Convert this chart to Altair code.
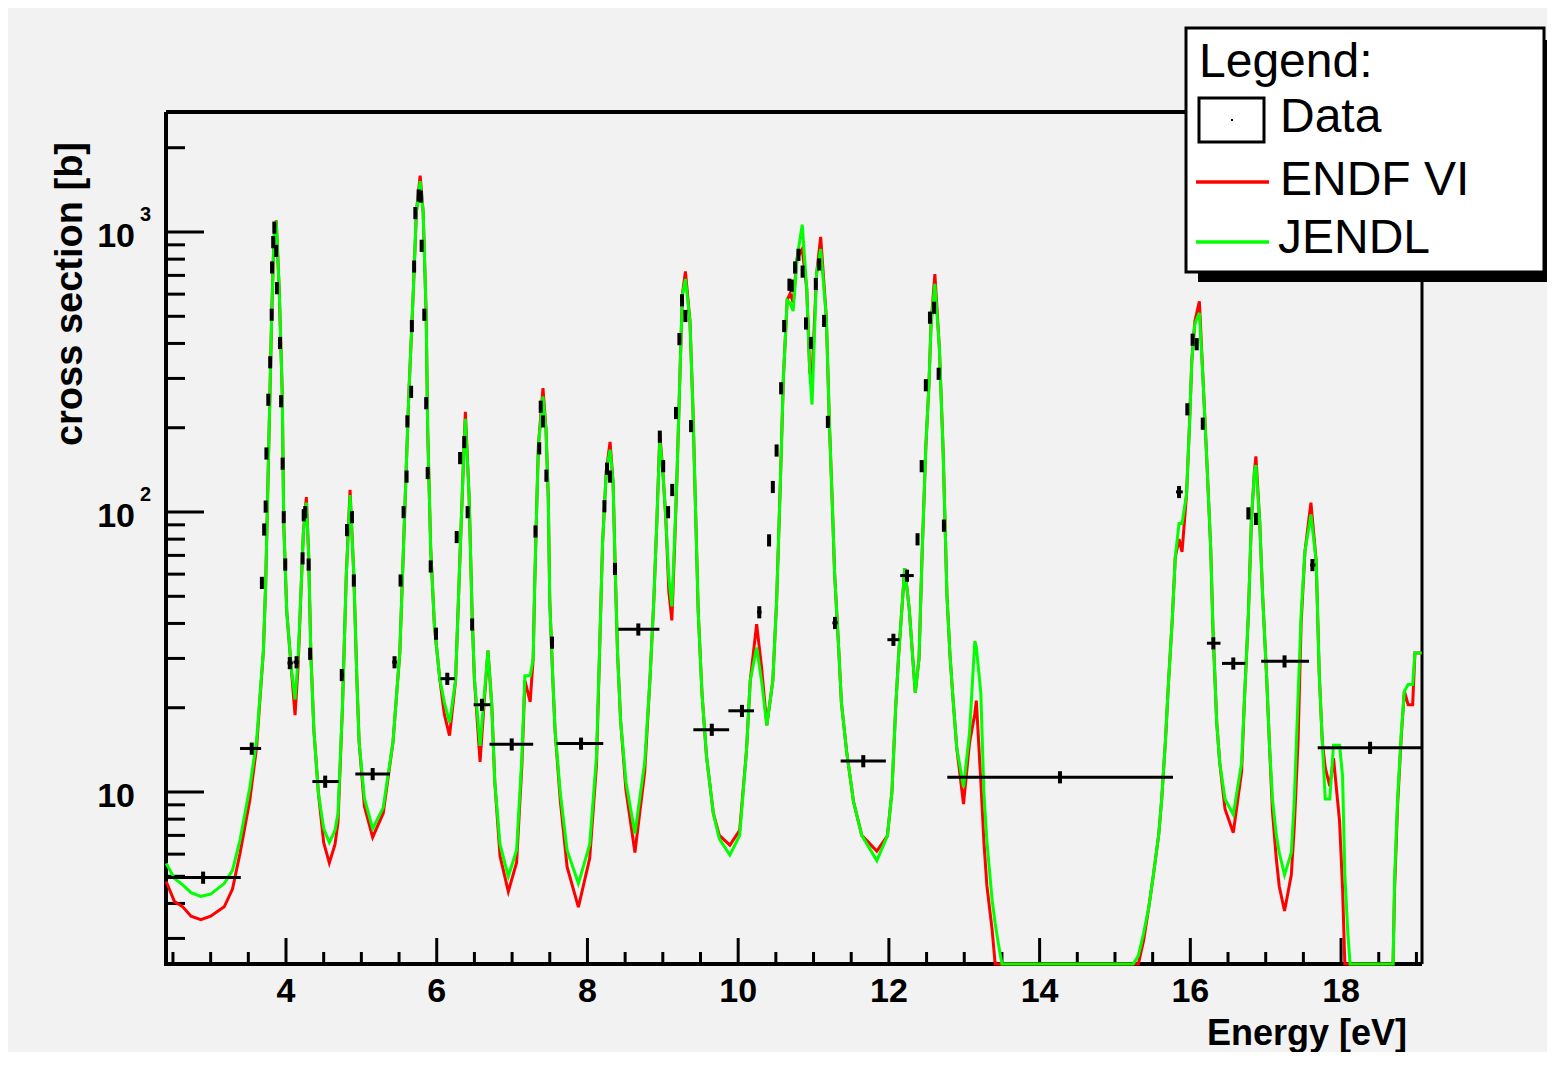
import altair as alt
import pandas as pd

# ---------------- axis ranges ----------------
X_MIN, X_MAX = 2.4076, 19.074
Y_MIN, Y_MAX = 2.431, 2683.0

# ---------------- evaluated cross sections ----------------
curve_x = [2.41, 2.52, 2.63, 2.74, 2.87, 3.0, 3.18, 3.29, 3.39, 3.52, 3.61, 3.70, 3.73, 3.77, 3.81, 3.84, 3.87,
           3.91, 3.95, 3.97, 4.01, 4.07, 4.12, 4.16, 4.20, 4.23, 4.27, 4.30, 4.33, 4.37, 4.43, 4.50, 4.575,
           4.65, 4.69, 4.75, 4.80, 4.85, 4.90, 4.94, 4.97, 5.04, 5.15, 5.29, 5.42, 5.51, 5.57, 5.63, 5.69,
           5.73, 5.78, 5.82, 5.86, 5.88, 5.92, 5.97, 6.04, 6.10, 6.17, 6.25, 6.30, 6.35, 6.38, 6.43, 6.47,
           6.50, 6.575, 6.63, 6.68, 6.73, 6.77, 6.84, 6.95, 7.06, 7.13, 7.17, 7.24, 7.28, 7.30, 7.33, 7.35,
           7.41, 7.45, 7.48, 7.50, 7.54, 7.57, 7.64, 7.73, 7.88, 8.03, 8.12, 8.17, 8.20, 8.25, 8.30, 8.34,
           8.37, 8.40, 8.44, 8.51, 8.63, 8.76, 8.83, 8.88, 8.92, 8.96, 9.00, 9.04, 9.08, 9.12, 9.16, 9.19,
           9.23, 9.26, 9.30, 9.36, 9.40, 9.43, 9.47, 9.52, 9.58, 9.67, 9.75, 9.89, 10.02, 10.11, 10.16,
           10.245, 10.31, 10.38, 10.46, 10.51, 10.56, 10.60, 10.65, 10.69, 10.73, 10.78, 10.85, 10.91,
           10.95, 10.98, 11.04, 11.095, 11.17, 11.21, 11.25, 11.28, 11.33, 11.37, 11.44, 11.53, 11.64,
           11.84, 11.98, 12.04, 12.09, 12.13, 12.21, 12.27, 12.35, 12.40, 12.44, 12.49, 12.53, 12.56,
           12.61, 12.67, 12.72, 12.77, 12.81, 12.85, 12.90, 12.99, 13.07, 13.14, 13.16, 13.22, 13.26,
           13.30, 13.37, 13.41, 13.45, 13.50, 15.24, 15.31, 15.38, 15.45, 15.51, 15.58, 15.62, 15.67,
           15.71, 15.76, 15.80, 15.85, 15.89, 15.95, 15.99, 16.02, 16.06, 16.12, 16.17, 16.22, 16.27,
           16.30, 16.35, 16.39, 16.46, 16.57, 16.68, 16.72, 16.77, 16.81, 16.85, 16.87, 16.92, 16.96,
           17.01, 17.05, 17.09, 17.14, 17.18, 17.25, 17.34, 17.38, 17.43, 17.47, 17.52, 17.60, 17.67,
           17.71, 17.75, 17.79, 17.85, 17.90, 17.98, 18.02, 18.05, 18.09, 18.12, 18.69, 18.71, 18.75,
           18.80, 18.84, 18.89, 18.95, 18.98, 19.07]

endf_y = [4.79, 4.06, 3.89, 3.6, 3.50, 3.6, 3.89, 4.5, 6.04, 9.36, 14.5, 32, 55, 167, 503, 952, 1100,
          622, 266, 91, 44, 27.7, 18.8, 28, 53, 84, 113, 71, 31, 16.6, 9.9, 6.6, 5.58,
          6.5, 7.8, 20.5, 59.6, 120, 59.6, 25.4, 15.1, 8.9, 6.9, 8.4, 15.1, 31.4, 91, 265, 622,
          1177, 1590, 1177, 503, 197, 74, 39, 25.4, 19, 15.9, 25, 60, 140, 228, 113, 42.5,
          25.4, 12.8, 21, 32, 20.5, 10.9, 5.9, 4.41, 5.6, 12.5, 25, 21, 30, 55, 113, 174,
          277, 197, 113, 48, 25.4, 16.6, 9.3, 5.4, 3.88, 5.8, 12.5, 39, 77, 140, 178, 128,
          60, 31, 18, 10.2, 6.08, 11.8, 25.4, 48, 91, 190, 140, 95, 52, 41, 80, 140,
          328, 597, 723, 482, 233, 113, 44, 22.4, 13.4, 8.4, 7.0, 6.46, 7.3, 14, 25,
          39.8, 28, 17.3, 25, 48, 128, 301, 571, 603, 560, 801, 870, 627,
          315, 302, 708, 960, 493, 209, 105, 60, 34, 20.8, 13.9, 9.25, 7.0,
          6.15, 6.97, 10, 20, 31, 63, 45, 22.6, 30, 70, 171, 279, 473,
          708, 385, 164, 50.7, 31, 21.7, 14.4, 9.06, 15, 19, 21.2, 10.9, 6.68,
          4.63, 3.22, 2.431, 2.431, 2.431, 2.431, 2.431, 2.95, 3.9, 5.06, 7.03, 9.44, 15.3,
          24.6, 41.3, 69, 80, 72, 116, 209, 350, 480, 565, 291, 150, 74.5,
          38.4, 17.7, 12.7, 8.7, 7.16, 11.8, 22, 42.9, 93, 139, 158, 93, 49.7,
          26.6, 14.7, 8.5, 5.8, 4.6, 3.76, 5.06, 7.56, 15.3, 40, 72, 108, 66.8,
          26.6, 15.3, 12.2, 10.5, 13.2, 7.87, 4.52, 2.431, 2.431, 2.431, 2.431, 4.5, 9,
          16, 22.9, 20.5, 20.5, 31.4, 31.4]

jendl_y = [5.56, 4.91, 4.66, 4.37, 4.24, 4.32, 4.71, 5.25, 6.74, 10.4, 15.3, 32, 55, 167, 503, 952, 1096,
           622, 266, 91, 44, 27.7, 21.4, 30, 53, 84, 108, 71, 31, 16.6, 9.9, 7.4, 6.6,
           7.3, 8.4, 20.5, 59.6, 115, 59.6, 25.4, 15.1, 9.5, 7.4, 8.8, 15.1, 31.4, 91, 265, 622,
           1177, 1520, 1177, 503, 197, 74, 39, 25.4, 21, 17.7, 25, 60, 140, 215, 113, 42.5,
           25.4, 14.6, 22, 32, 20.5, 10.9, 6.5, 5.0, 6.2, 13.4, 26, 26, 30, 55, 113, 174,
           259, 197, 113, 48, 25.4, 16.6, 9.9, 6.2, 4.71, 6.5, 13.4, 39, 77, 140, 167, 128,
           60, 31, 18, 10.9, 7.1, 12.8, 25.4, 48, 91, 180, 140, 95, 58, 46, 85, 140,
           328, 597, 680, 482, 233, 113, 44, 22.4, 13.4, 8.4, 6.8, 5.96, 7.0, 14, 25,
           32.8, 25, 17.3, 25, 48, 128, 301, 571, 556, 522, 801, 1062, 627,
           315, 242, 708, 870, 493, 209, 105, 60, 34, 20.8, 13.9, 9.25, 7.0,
           5.69, 6.97, 10, 20, 31, 63, 45, 22.6, 30, 70, 171, 279, 473,
           653, 385, 164, 50.7, 31, 21.7, 14.4, 10.4, 16.3, 34.6, 33, 22.6, 10,
           6.68, 4.11, 3.4, 2.9, 2.431, 2.431, 2.6, 3.13, 3.9, 5.06, 7.03, 9.44, 15.3,
           24.6, 41.3, 69, 91, 91, 116, 209, 350, 470, 515, 291, 150, 74.5,
           38.4, 17.7, 12.7, 9.44, 8.3, 12.7, 22, 42.9, 93, 139, 147, 93, 49.7,
           26.6, 14.7, 9.44, 7.03, 6.07, 5.06, 6.07, 9.44, 22, 42.9, 72, 98, 66.8,
           26.6, 15.3, 9.44, 9.44, 14.7, 14.7, 11.4, 5.06, 3.13, 2.431, 2.431, 4.87, 9.44,
           16.4, 22.9, 24.2, 24.2, 31.4, 31.4]

# ---------------- measured data points ----------------
data_x = [2.90, 3.545, 3.68, 3.71, 3.73, 3.74, 3.765, 3.79, 3.81, 3.815, 3.83, 3.845, 3.87, 3.88, 3.92,
          3.935, 3.955, 3.97, 3.99, 4.05, 4.14, 4.22, 4.235, 4.255, 4.30, 4.32, 4.52, 4.74, 4.81, 4.875,
          4.90, 5.15, 5.44, 5.52, 5.56, 5.60, 5.61, 5.66, 5.67, 5.70, 5.716, 5.76, 5.79, 5.80, 5.835,
          5.86, 5.88, 5.92, 5.99, 6.14, 6.265, 6.31, 6.365, 6.41, 6.47, 6.60, 6.995, 7.31, 7.36, 7.38,
          7.41, 7.455, 7.53, 7.915, 8.225, 8.26, 8.30, 8.365, 8.675, 8.96, 9.005, 9.07, 9.125, 9.175,
          9.22, 9.255, 9.30, 9.375, 9.65, 10.05, 10.28, 10.41, 10.46, 10.51, 10.57, 10.61, 10.68, 10.71,
          10.755, 10.80, 10.855, 10.90, 10.965, 11.03, 11.075, 11.14, 11.19, 11.285, 11.66, 12.06,
          12.24, 12.38, 12.435, 12.49, 12.545, 12.60, 12.66, 12.73, 14.27, 15.85, 15.96, 16.03,
          16.085, 16.165, 16.305, 16.57, 16.77, 16.87, 17.25, 17.62, 18.385]
data_y = [4.95, 14.3, 55.9, 86.7, 104.7, 162, 252, 343, 507, 748, 921, 1038, 857, 631, 402,
          249, 149, 96, 65, 28.9, 29.1, 68.4, 97.5, 100, 65, 31.2, 10.9, 26.2, 86.3, 96,
          57, 11.6, 29.1, 57, 100, 134, 211, 269, 462, 754, 1170, 1352, 1340, 894, 507,
          245, 138, 64, 36.8, 25.4, 81.5, 156, 178, 100, 39.7, 20.5, 14.8, 85.3, 169, 238,
          211, 135, 34.2, 14.9, 105, 143, 134, 62.7, 38.1, 186, 146, 100, 120, 226,
          415, 571, 502, 203, 16.7, 19.5, 43.9, 79.3, 123, 166, 277, 462, 649, 644,
          748, 830, 723, 472, 402, 653, 767, 482, 210, 40.2, 12.9, 35,
          59.3, 80, 146, 284, 495, 537, 312, 89.5, 11.3, 118, 233, 413,
          398, 207, 34, 28.8, 99, 94.6, 29.3, 64.7, 14.4]
# horizontal extent of each measurement (bin edges); equal to x where no bar is drawn
data_xlo = [2.41, 3.39, 3.68, 3.71, 3.73, 3.74, 3.765, 3.79, 3.81, 3.815, 3.83, 3.845, 3.87, 3.88, 3.92,
            3.935, 3.955, 3.97, 3.99, 4.02, 4.10, 4.22, 4.235, 4.255, 4.30, 4.30, 4.35, 4.72, 4.81, 4.875,
            4.90, 4.92, 5.41, 5.52, 5.56, 5.60, 5.61, 5.66, 5.67, 5.70, 5.716, 5.76, 5.79, 5.80, 5.835,
            5.86, 5.88, 5.92, 5.97, 6.05, 6.265, 6.31, 6.365, 6.41, 6.47, 6.49, 6.70, 7.31, 7.36, 7.38,
            7.41, 7.455, 7.51, 7.59, 8.225, 8.26, 8.30, 8.34, 8.41, 8.96, 9.005, 9.07, 9.125, 9.175,
            9.22, 9.255, 9.30, 9.36, 9.405, 9.87, 10.25, 10.41, 10.46, 10.51, 10.57, 10.61, 10.68, 10.71,
            10.755, 10.80, 10.855, 10.90, 10.965, 11.03, 11.075, 11.14, 11.19, 11.25, 11.36, 11.98,
            12.15, 12.38, 12.435, 12.49, 12.545, 12.60, 12.66, 12.73, 12.775, 15.81, 15.96, 16.03,
            16.085, 16.165, 16.22, 16.42, 16.77, 16.87, 16.94, 17.59, 17.69]
data_xhi = [3.40, 3.67, 3.68, 3.71, 3.73, 3.74, 3.765, 3.79, 3.81, 3.815, 3.83, 3.845, 3.87, 3.88, 3.92,
            3.935, 3.955, 3.97, 3.99, 4.09, 4.17, 4.22, 4.235, 4.255, 4.30, 4.34, 4.70, 4.77, 4.81, 4.875,
            4.90, 5.38, 5.47, 5.52, 5.56, 5.60, 5.61, 5.66, 5.67, 5.70, 5.716, 5.76, 5.79, 5.80, 5.835,
            5.86, 5.88, 5.92, 6.01, 6.24, 6.265, 6.31, 6.365, 6.41, 6.47, 6.71, 7.28, 7.31, 7.36, 7.38,
            7.41, 7.455, 7.55, 8.21, 8.225, 8.26, 8.30, 8.39, 8.955, 8.96, 9.005, 9.07, 9.125, 9.175,
            9.22, 9.255, 9.30, 9.39, 9.88, 10.21, 10.31, 10.41, 10.46, 10.51, 10.57, 10.61, 10.68, 10.71,
            10.755, 10.80, 10.855, 10.90, 10.965, 11.03, 11.075, 11.14, 11.19, 11.32, 11.96, 12.14,
            12.33, 12.38, 12.435, 12.49, 12.545, 12.60, 12.66, 12.73, 15.77, 15.90, 15.96, 16.03,
            16.085, 16.165, 16.40, 16.73, 16.77, 16.87, 17.575, 17.66, 19.074]
DATA_REL_ERR = 0.05

# ---------------- axis ticks and labels ----------------
x_major = [4, 6, 8, 10, 12, 14, 16, 18]
x_minor = [2.5, 3, 3.5, 4.5, 5, 5.5, 6.5, 7, 7.5, 8.5, 9, 9.5, 10.5, 11, 11.5, 12.5, 13, 13.5,
           14.5, 15, 15.5, 16.5, 17, 17.5, 18.5, 19]
y_major = [10, 100, 1000]
y_major_sup = ["", "2", "3"]
y_minor = [3, 4, 5, 6, 7, 8, 9, 20, 30, 40, 50, 60, 70, 80, 90,
           200, 300, 400, 500, 600, 700, 800, 900, 2000]

legend_labels = ["Data", "ENDF VI", "JENDL"]

# ---------------- layout ----------------
W, H = 1256, 852
FONT = "Liberation Sans"
BG = "#f2f2f2"

xs = alt.Scale(domain=[X_MIN, X_MAX], nice=False, zero=False)
ys = alt.Scale(type="log", domain=[Y_MIN, Y_MAX], nice=False)

one = pd.DataFrame({"a": [0]})


def fixed_rule(x1, x2, y1, y2, w, color="black"):
    enc = dict(x=alt.value(x1), y=alt.value(y1))
    if x2 != x1:
        enc["x2"] = alt.value(x2)
    if y2 != y1:
        enc["y2"] = alt.value(y2)
    return alt.Chart(one).mark_rule(strokeWidth=w, color=color).encode(**enc)


def fixed_text(txt, x, y, size, align="left", weight="normal", angle=0):
    kw = dict(font=FONT, fontSize=size, align=align, baseline="alphabetic",
              fontWeight=weight, color="black")
    if angle:
        kw["angle"] = angle
    return alt.Chart(one).mark_text(**kw).encode(
        x=alt.value(x), y=alt.value(y), text=alt.value(txt))


def fixed_rect(x1, x2, y1, y2, **kw):
    return alt.Chart(one).mark_rect(**kw).encode(
        x=alt.value(x1), x2=alt.value(x2), y=alt.value(y1), y2=alt.value(y2))


# frame
frame = [
    fixed_rule(0, W, 0, 0, 4),
    fixed_rule(W, W, 0, H, 3),
    fixed_rule(0, 0, 0, H + 2, 4),
    fixed_rule(-2, W, H, H, 4),
]

# ticks
df_xmaj = pd.DataFrame({"v": x_major, "lab": [str(v) for v in x_major]})
df_xmin = pd.DataFrame({"v": x_minor})
df_ymaj = pd.DataFrame({"v": y_major, "sup": y_major_sup})
df_ymin = pd.DataFrame({"v": y_minor})

xt_major = alt.Chart(df_xmaj).mark_rule(strokeWidth=3, color="black").encode(
    x=alt.X("v:Q", scale=xs, axis=None), y=alt.value(H), y2=alt.value(H - 26))
xt_minor = alt.Chart(df_xmin).mark_rule(strokeWidth=3, color="black").encode(
    x=alt.X("v:Q", scale=xs, axis=None), y=alt.value(H), y2=alt.value(H - 12))
yt_major = alt.Chart(df_ymaj).mark_rule(strokeWidth=3, color="black").encode(
    y=alt.Y("v:Q", scale=ys, axis=None), x=alt.value(0), x2=alt.value(38))
yt_minor = alt.Chart(df_ymin).mark_rule(strokeWidth=3, color="black").encode(
    y=alt.Y("v:Q", scale=ys, axis=None), x=alt.value(0), x2=alt.value(19))

x_labels = alt.Chart(df_xmaj).mark_text(
    font=FONT, fontSize=34, fontWeight="bold", align="center", baseline="alphabetic",
    color="black").encode(x=alt.X("v:Q", scale=xs, axis=None), y=alt.value(890), text="lab:N")
y_labels = alt.Chart(df_ymaj).mark_text(
    font=FONT, fontSize=34, fontWeight="bold", align="right", baseline="alphabetic",
    dy=15, color="black").encode(y=alt.Y("v:Q", scale=ys, axis=None), x=alt.value(-31),
                                 text=alt.value("10"))
y_sups = alt.Chart(df_ymaj).mark_text(
    font=FONT, fontSize=20, fontWeight="bold", align="left", baseline="alphabetic",
    dy=-11, color="black").encode(y=alt.Y("v:Q", scale=ys, axis=None), x=alt.value(-26),
                                  text="sup:N")

x_title = fixed_text("Energy [eV]", 1241, 933, 36, align="right", weight="bold")
y_title = fixed_text("cross section [b]", -84, 30, 38, align="right", weight="bold", angle=270)

# curves
df_curves = pd.DataFrame({"E": curve_x, "endf": endf_y, "jendl": jendl_y})
endf_line = alt.Chart(df_curves).mark_line(color="#ff0000", strokeWidth=3).encode(
    x=alt.X("E:Q", scale=xs, axis=None), y=alt.Y("endf:Q", scale=ys, axis=None))
jendl_line = alt.Chart(df_curves).mark_line(color="#00ff00", strokeWidth=3).encode(
    x=alt.X("E:Q", scale=xs, axis=None), y=alt.Y("jendl:Q", scale=ys, axis=None))

# data points with error bars
df_data = pd.DataFrame({"x": data_x, "y": data_y, "xlo": data_xlo, "xhi": data_xhi})
df_data["ylo"] = df_data["y"] * (1 - DATA_REL_ERR)
df_data["yhi"] = df_data["y"] * (1 + DATA_REL_ERR)
df_hbar = df_data[df_data["xhi"] > df_data["xlo"]]
data_h = alt.Chart(df_hbar).mark_rule(strokeWidth=3, color="black").encode(
    x=alt.X("xlo:Q", scale=xs, axis=None), x2="xhi:Q", y=alt.Y("y:Q", scale=ys, axis=None))
data_v = alt.Chart(df_data).mark_rule(strokeWidth=4, color="black").encode(
    x=alt.X("x:Q", scale=xs, axis=None), y=alt.Y("ylo:Q", scale=ys, axis=None), y2="yhi:Q")

# legend box (ROOT style, with shadow)
legend = [
    fixed_rect(1032, 1395, -72, 170, color="black"),
    fixed_rect(1020, 1378, -84, 160, fill="white", stroke="black", strokeWidth=3),
    fixed_text("Legend:", 1033, -35, 48),
    fixed_rect(1033, 1098, -14, 30, fill="white", stroke="black", strokeWidth=3),
    fixed_rect(1065, 1067, 7, 9, color="black"),
    fixed_text(legend_labels[0], 1114, 20, 48),
    fixed_rule(1030, 1103, 70, 70, 3.5, color="#ff0000"),
    fixed_text(legend_labels[1], 1114, 83, 48),
    fixed_rule(1030, 1103, 130, 130, 3.5, color="#00ff00"),
    fixed_text(legend_labels[2], 1112, 141, 48),
]

chart = alt.layer(
    *frame, xt_major, xt_minor, yt_major, yt_minor,
    endf_line, jendl_line, data_h, data_v,
    x_labels, y_labels, y_sups, x_title, y_title,
    *legend,
).properties(
    width=W, height=H,
    padding={"left": 158, "top": 104, "right": 125, "bottom": 88},
    autosize=alt.AutoSizeParams(type="none"),
    background=BG,
).configure_view(strokeWidth=0)

chart.save("out.html", embed_options={"renderer": "svg", "actions": False})
